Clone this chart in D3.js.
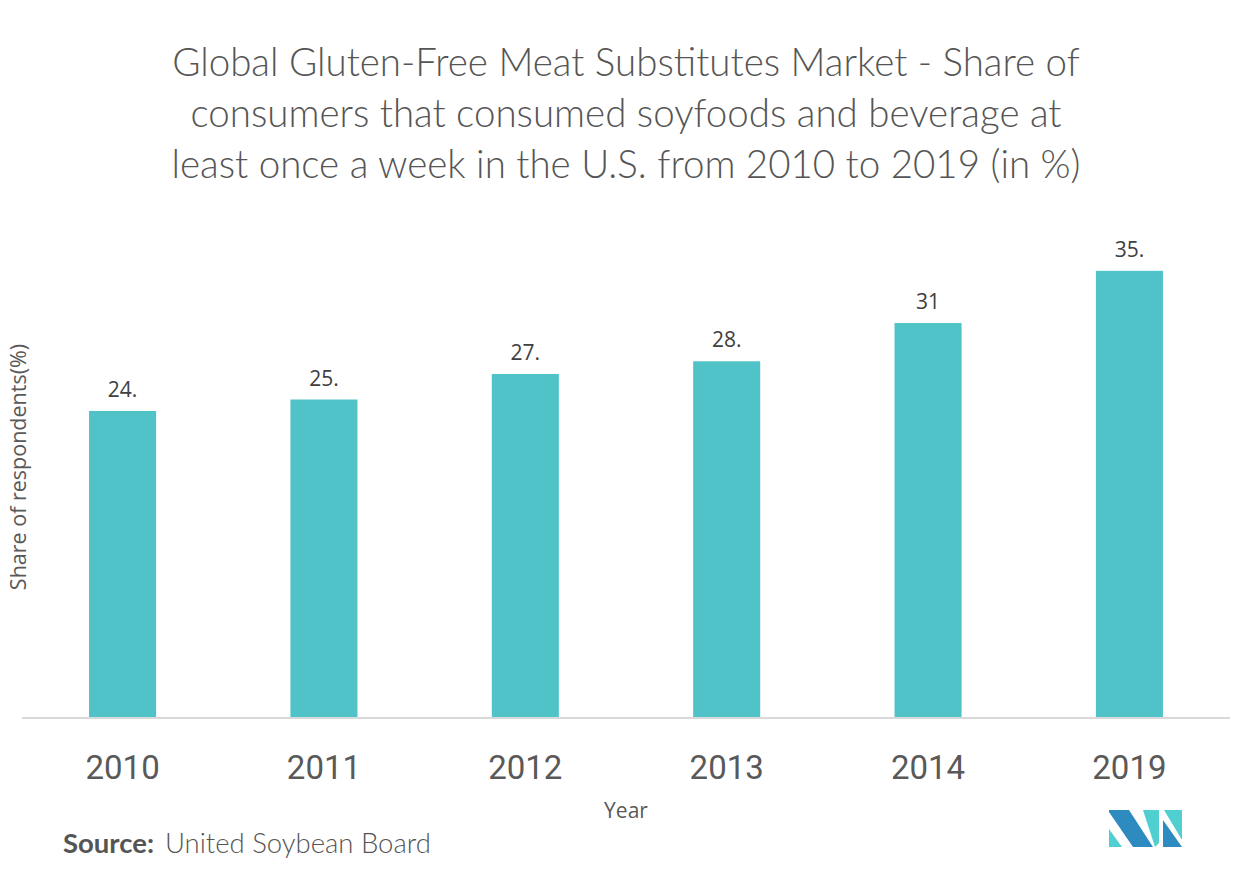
<!DOCTYPE html>
<html>
<head>
<meta charset="utf-8">
<script src="https://cdn.jsdelivr.net/npm/d3@7"></script>
<style>
  html, body { margin: 0; padding: 0; background: #fff; }
</style>
</head>
<body>
<svg id="chart" width="1253" height="880"></svg>
<script>
const categories = ["2010", "2011", "2012", "2013", "2014", "2019"];
const values = [24.1, 25.0, 27.0, 28.0, 31.0, 35.1];
const valueLabels = ["24.", "25.", "27.", "28.", "31", "35."];
const titleLines = [
  "Global Gluten-Free Meat Substitutes Market - Share of",
  "consumers that consumed soyfoods and beverage at",
  "least once a week in the U.S. from 2010 to 2019 (in %)"
];

const svg = d3.select("#chart");
const W = 1253, H = 880;
svg.append("rect").attr("width", W).attr("height", H).attr("fill", "#fff");

// title
svg.append("g").selectAll("text").data(titleLines).join("text")
  .attr("x", 626).attr("y", (d, i) => 76 + i * 51)
  .attr("text-anchor", "middle")
  .attr("font-family", "Lato, 'Open Sans', sans-serif")
  .attr("font-size", 38.5)
  .attr("font-weight", 300)
  .attr("fill", "#555555")
  .text(d => d);

const plotLeft = 22, plotRight = 1230, baseY = 718;
const x = d3.scaleBand().domain(categories).range([plotLeft, plotRight])
  .paddingInner(0.667).paddingOuter(0.333);
const y = d3.scaleLinear().domain([0, 40]).range([baseY, baseY - 40 * 12.74]);

svg.append("g").selectAll("rect").data(values).join("rect")
  .attr("x", (d, i) => x(categories[i]))
  .attr("y", d => y(d))
  .attr("width", x.bandwidth())
  .attr("height", d => baseY - y(d))
  .attr("fill", "#4fc3c8");

svg.append("g").selectAll("text").data(values).join("text")
  .attr("x", (d, i) => x(categories[i]) + x.bandwidth() / 2)
  .attr("y", d => y(d) - 14)
  .attr("text-anchor", "middle")
  .attr("font-family", "'Open Sans', sans-serif")
  .attr("font-size", 21)
  .attr("fill", "#404040")
  .text((d, i) => valueLabels[i]);

// x axis
const xAxis = svg.append("g").attr("transform", `translate(0,${baseY})`)
  .call(d3.axisBottom(x).tickSize(0).tickPadding(0));
xAxis.select(".domain").attr("stroke", "#d9d9d9").attr("stroke-width", 2)
  .attr("d", `M${plotLeft},0H${plotRight}`);
xAxis.selectAll(".tick text")
  .attr("dy", null).attr("y", 61)
  .attr("font-family", "Roboto, sans-serif")
  .attr("font-size", 33)
  .attr("fill", "#595959");

// axis titles
svg.append("text").attr("x", 626).attr("y", 818)
  .attr("text-anchor", "middle")
  .attr("font-family", "'Open Sans', sans-serif")
  .attr("font-size", 21).attr("fill", "#595959").text("Year");

svg.append("text")
  .attr("transform", "translate(26,467) rotate(-90)")
  .attr("text-anchor", "middle")
  .attr("font-family", "'Open Sans', sans-serif")
  .attr("font-size", 21.5).attr("fill", "#595959").text("Share of respondents(%)");

// source
const src = svg.append("text").attr("x", 63).attr("y", 853)
  .attr("font-family", "Lato, sans-serif").attr("font-size", 27.5).attr("fill", "#555555");
src.append("tspan").attr("font-weight", "bold").text("Source:");
src.append("tspan").attr("dx", 11).attr("font-weight", 300).text("United Soybean Board");

// logo
const logo = svg.append("g").attr("transform", "translate(1109,810)");
const dark = "#2e8bc0", teal = "#4fcfd0";
logo.append("polygon").attr("points", "0,19 0,37 13,37").attr("fill", teal);
logo.append("polygon").attr("points", "0,0 20,0 44,37 24,37 0,2").attr("fill", dark);
logo.append("polygon").attr("points", "34,0 50,0 50,33 46,37 ").attr("fill", teal);
logo.append("polygon").attr("points", "54,10 54,37 73,37").attr("fill", dark);
logo.append("polygon").attr("points", "55,0 73,0 73,30").attr("fill", teal);
</script>
</body>
</html>
